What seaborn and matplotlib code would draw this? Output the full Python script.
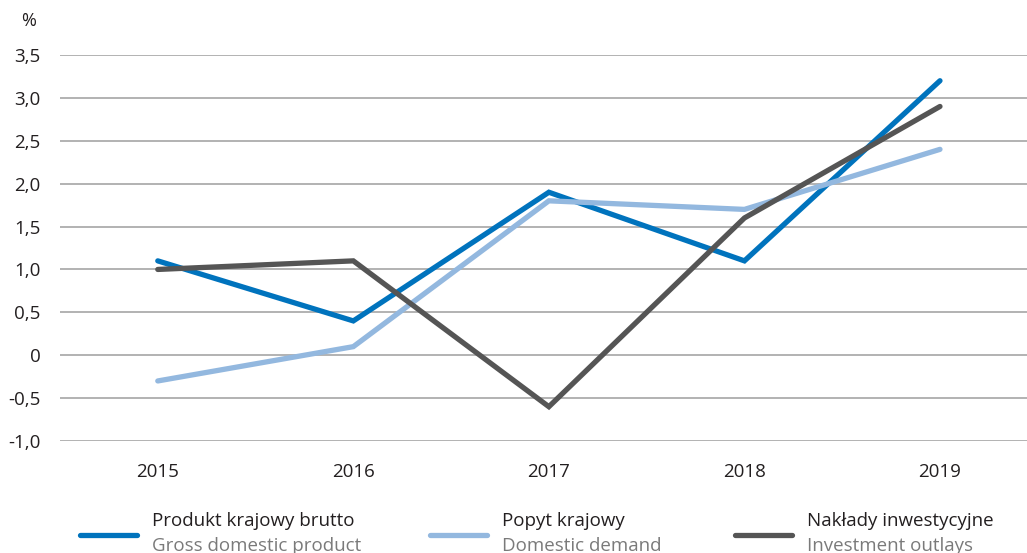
import matplotlib.pyplot as plt
import pandas as pd
import seaborn as sns
from matplotlib import ticker
from matplotlib.lines import Line2D

sns.set_style("white")
plt.rcParams['font.family'] = ['Open Sans', 'DejaVu Sans']

years = ["2015", "2016", "2017", "2018", "2019"]
gdp = [1.1, 0.4, 1.9, 1.1, 3.2]
demand = [-0.3, 0.1, 1.8, 1.7, 2.4]
investment = [1.0, 1.1, -0.6, 1.6, 2.9]

series_pl = ["Produkt krajowy brutto", "Popyt krajowy", "Nakłady inwestycyjne"]
series_en = ["Gross domestic product", "Domestic demand", "Investment outlays"]
colors = ["#0073bd", "#93b8df", "#555555"]

rows = []
for name, vals in zip(series_pl, [gdp, demand, investment]):
    for i, v in enumerate(vals):
        rows.append({"pos": i, "year": years[i], "value": v, "series": name})
data = pd.DataFrame(rows)

fig = plt.figure(figsize=(10.27, 5.53), dpi=100)
ax = fig.add_axes([60 / 1027, 1 - 441 / 553, 1 - 60 / 1027, (441 - 55) / 553])

sns.lineplot(data=data, x="pos", y="value", hue="series", hue_order=series_pl,
             palette=colors, linewidth=3.8, legend=False, ax=ax,
             solid_joinstyle="miter")

ax.set_xlim(-0.5, 4.445)
ax.set_ylim(-1.0, 3.5)
ax.set_xticks(range(len(years)))
ax.set_xticklabels(years)
ax.yaxis.set_major_locator(ticker.MultipleLocator(0.5))
ax.yaxis.set_major_formatter(ticker.FuncFormatter(
    lambda y, pos: "0" if abs(y) < 1e-9 else '{:.1f}'.format(y).replace(".", ",")))
ax.tick_params(axis="both", length=0, labelsize=13.5, colors="#231f20")
ax.tick_params(axis="x", pad=16)
ax.tick_params(axis="y", pad=14)
ax.grid(axis="y", color="#a6a6a6", linewidth=1.2)
ax.set_axisbelow(True)
ax.set_xlabel("")
ax.set_ylabel("")
sns.despine(ax=ax, left=True, bottom=True, right=True, top=True)

fig.text(21 / 1027, 1 - 21 / 553, "%", fontsize=13, color="#231f20", va="center")

# legend
leg_x = [80, 430, 735]
for x0, c, pl, en in zip(leg_x, colors, series_pl, series_en):
    fig.add_artist(Line2D([x0 / 1027, (x0 + 57) / 1027], [1 - 535 / 553] * 2,
                          color=c, linewidth=3.8, solid_capstyle="round"))
    fig.text((x0 + 72) / 1027, 1 - 521 / 553, pl, fontsize=13.5, color="#231f20", va="center")
    fig.text((x0 + 72) / 1027, 1 - 546 / 553, en, fontsize=13.5, color="#7a7a7a", va="center")

plt.savefig("out.png", dpi=100)
